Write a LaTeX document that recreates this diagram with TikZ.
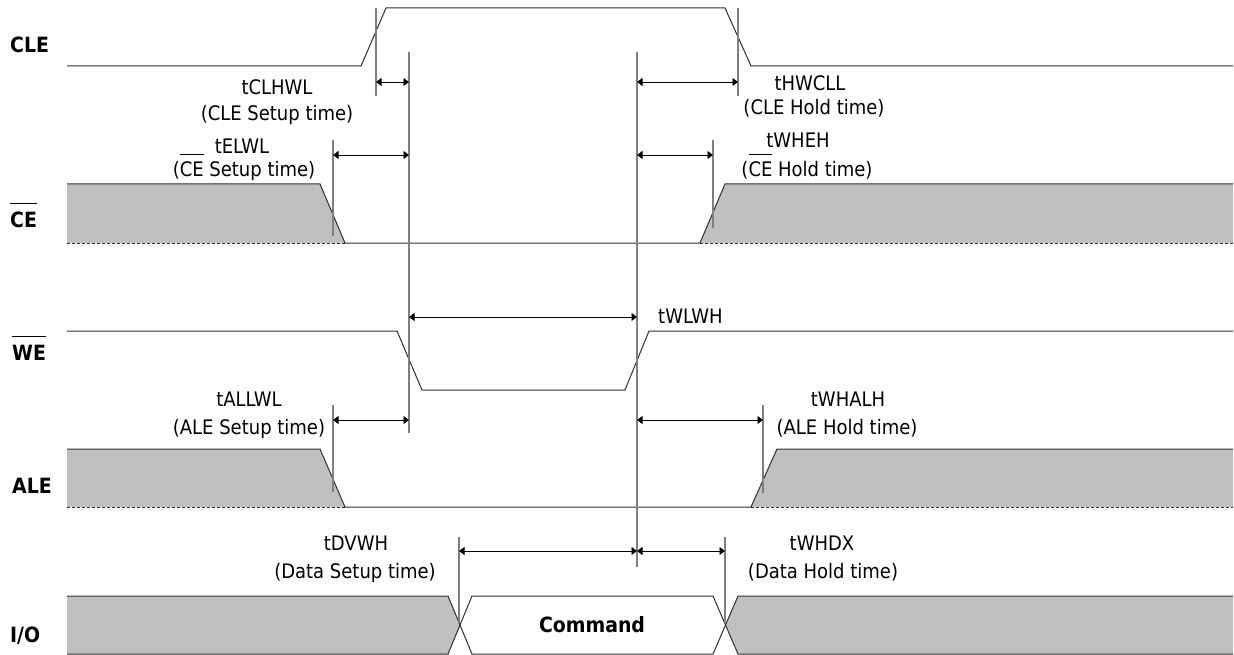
\documentclass[tikz,border=0pt]{standalone}
\usepackage{fontspec}
\setmainfont{DejaVu Sans Condensed}
\usetikzlibrary{arrows.meta}
\definecolor{fillg}{HTML}{C0C0C0}
\definecolor{refg}{HTML}{7F7F7F}
\definecolor{sigc}{HTML}{303030}
\newcommand{\myovl}[2]{\setbox0=\hbox{#2}\rlap{\rule[#1]{\wd0}{0.8pt}}\box0\relax}
\begin{document}
\begin{tikzpicture}[x=1pt,y=-1pt,
  sigline/.style={draw=sigc,line width=1pt},
  dashline/.style={draw=sigc,line width=0.8pt,dash pattern=on 3pt off 2pt},
  refline/.style={draw=refg,line width=1.3pt},
  dimarrow/.style={draw=black,line width=0.9pt,{Triangle[length=5.5pt,width=8pt]}-{Triangle[length=5.5pt,width=8pt]}},
  lbl/.style={font=\fontsize{20}{24}\selectfont,anchor=base,inner sep=0pt},
  sname/.style={font=\fontsize{21}{25}\selectfont\bfseries,anchor=base west,inner sep=0pt}]
\useasboundingbox (0,0) rectangle (1234,655);

% ---- fills
\fill[fillg] (67,184) -- (320,184) -- (345,243) -- (67,243) -- cycle;
\fill[fillg] (1233,184) -- (725,184) -- (700,243) -- (1233,243) -- cycle;
\fill[fillg] (67,449) -- (320,449) -- (345,507) -- (67,507) -- cycle;
\fill[fillg] (1233,449) -- (777,449) -- (751,507) -- (1233,507) -- cycle;
\fill[fillg] (67,596) -- (448,596) -- (460,625) -- (448,654) -- (67,654) -- cycle;
\fill[fillg] (1233,596) -- (738,596) -- (725.5,625) -- (738,654) -- (1233,654) -- cycle;

% ---- signals
\draw[sigline] (67,66) -- (361,66) -- (386,8) -- (725,8) -- (751,66) -- (1233,66);
\draw[sigline] (67,184) -- (320,184) -- (345,243) -- (700,243) -- (725,184) -- (1233,184);
\draw[dashline] (67,243) -- (345,243);
\draw[dashline] (700,243) -- (1233,243);
\draw[sigline] (67,331) -- (397,331) -- (422,390) -- (625,390) -- (649,331) -- (1233,331);
\draw[sigline] (67,449) -- (320,449) -- (345,507) -- (751,507) -- (777,449) -- (1233,449);
\draw[dashline] (67,507) -- (345,507);
\draw[dashline] (751,507) -- (1233,507);
\draw[sigline] (67,596) -- (448,596) -- (472,654) -- (713,654) -- (738,596) -- (1233,596);
\draw[sigline] (67,654) -- (448,654) -- (472,596) -- (713,596) -- (738,654) -- (1233,654);

% ---- reference lines
\coordinate (c1t) at (376,8);   \coordinate (c1b) at (376,96);
\coordinate (wlt) at (409,52);  \coordinate (wlb) at (409,433);
\coordinate (wht) at (637,52);  \coordinate (whb) at (637,567);
\coordinate (c2t) at (738,8);   \coordinate (c2b) at (738,96);
\coordinate (e1t) at (333,140); \coordinate (e1b) at (333,236);
\coordinate (e2t) at (713,140); \coordinate (e2b) at (713,228);
\coordinate (a1t) at (333,405); \coordinate (a1b) at (333,492);
\coordinate (a2t) at (763,405); \coordinate (a2b) at (763,493);
\coordinate (d1t) at (459,537); \coordinate (d1b) at (459,623);
\coordinate (d2t) at (725,537); \coordinate (d2b) at (725,623);
\foreach \p in {c1,wl,wh,c2,e1,e2,a1,a2,d1,d2} \draw[refline] (\p t) -- (\p b);

% ---- dimension arrows
\coordinate (k1) at (376,82);  \coordinate (k2) at (409,82);
\coordinate (k3) at (637,82);  \coordinate (k4) at (738,82);
\coordinate (m1) at (333,155); \coordinate (m2) at (409,155);
\coordinate (m3) at (637,155); \coordinate (m4) at (713,155);
\coordinate (n1) at (409,317); \coordinate (n2) at (637,317);
\coordinate (p1) at (333,420); \coordinate (p2) at (409,420);
\coordinate (p3) at (637,420); \coordinate (p4) at (763,420);
\coordinate (q1) at (459,551); \coordinate (q2) at (637,551); \coordinate (q3) at (725,551);
\draw[dimarrow] (k1) -- (k2);
\draw[dimarrow] (k3) -- (k4);
\draw[dimarrow] (m1) -- (m2);
\draw[dimarrow] (m3) -- (m4);
\draw[dimarrow] (n1) -- (n2);
\draw[dimarrow] (p1) -- (p2);
\draw[dimarrow] (p3) -- (p4);
\draw[dimarrow] (q1) -- (q2);
\draw[dimarrow] (q2) -- (q3);

% ---- labels
\node[lbl] (l1a) at (277,95) {tCLHWL};
\node[lbl] (l1b) at (277,121) {(CLE Setup time)};
\node[lbl] (l2a) at (242,154) {tELWL};
\node[lbl] (l2b) at (244,177) {(\myovl{22pt}{CE} Setup time)};
\node[lbl] (l3a) at (810,91) {tHWCLL};
\node[lbl] (l3b) at (814,115) {(CLE Hold time)};
\node[lbl] (l4a) at (798,148) {tWHEH};
\node[lbl] (l4b) at (807,177) {(\myovl{22pt}{CE} Hold time)};
\node[lbl,anchor=base west] (l5) at (658,323) {tWLWH};
\node[lbl] (l6a) at (249,406) {tALLWL};
\node[lbl] (l6b) at (249,434) {(ALE Setup time)};
\node[lbl] (l7a) at (848,406) {tWHALH};
\node[lbl] (l7b) at (847,434) {(ALE Hold time)};
\node[lbl] (l8a) at (356,550) {tDVWH};
\node[lbl] (l8b) at (355,578) {(Data Setup time)};
\node[lbl] (l9a) at (822,550) {tWHDX};
\node[lbl] (l9b) at (823,578) {(Data Hold time)};
\node[lbl,font=\fontsize{21}{25}\selectfont\bfseries] (cmd) at (592,632) {Command};

% ---- signal names
\node[sname] (nCLE) at (10,53) {CLE};
\node[sname] (nCE) at (10,228) {\myovl{24pt}{CE}};
\node[sname] (nWE) at (12,360) {\myovl{23pt}{WE}};
\node[sname] (nALE) at (12,493) {ALE};
\node[sname] (nIO) at (10,642) {I/O};
\end{tikzpicture}
\end{document}
